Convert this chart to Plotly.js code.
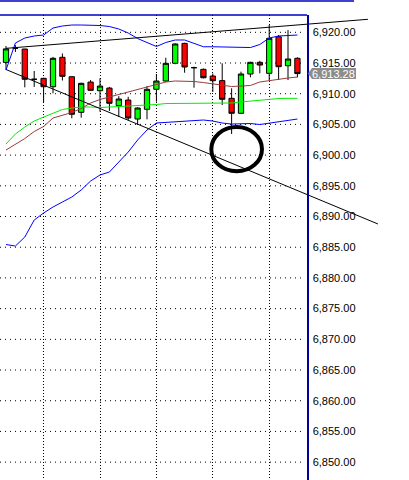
<!DOCTYPE html>
<html>
<head>
<meta charset="utf-8">
<script src="https://cdn.plot.ly/plotly-3.0.1.min.js"></script>
<style>html,body{margin:0;padding:0;background:#fff;}#chart{width:409px;height:480px;}</style>
</head>
<body>
<div id="chart"></div>
<script>
// bar index
var idx = [1,2,3,4,5,6,7,8,9,10,11,12,13,14,15,16,17,18,19,20,21,22,23,24,25,26,27,28,29,30,31,32];
var openP  = [6915.10,6917.40,6917.28,6912.35,6912.50,6911.14,6915.93,6912.77,6906.97,6911.90,6910.49,6910.92,6908.08,6908.97,6905.88,6907.46,6910.72,6912.07,6914.95,6918.20,6914.24,6913.97,6912.88,6912.13,6909.25,6906.81,6913.21,6915.11,6913.32,6919.28,6914.56,6915.77];
var highP  = [6917.77,6917.90,6917.30,6913.70,6912.60,6916.00,6916.55,6912.80,6911.80,6912.23,6912.50,6911.10,6909.60,6909.50,6907.80,6911.25,6913.21,6915.86,6918.20,6918.30,6914.40,6914.10,6913.30,6914.95,6910.88,6913.60,6915.20,6915.37,6921.19,6919.56,6920.37,6915.93];
var lowP   = [6913.90,6916.80,6911.04,6911.10,6908.65,6910.07,6912.15,6906.00,6906.10,6910.50,6907.07,6907.20,6906.20,6905.70,6904.90,6905.83,6908.70,6911.90,6914.80,6913.42,6910.98,6912.50,6910.28,6908.16,6903.44,6906.70,6912.67,6913.32,6912.23,6912.23,6912.23,6912.67];
var closeP = [6917.30,6917.40,6912.35,6912.35,6911.14,6915.77,6912.83,6906.65,6911.69,6910.55,6911.25,6908.44,6909.14,6906.04,6907.67,6910.72,6912.07,6914.95,6918.10,6914.35,6914.24,6912.60,6912.12,6909.09,6906.81,6913.21,6915.11,6914.67,6919.02,6914.40,6915.65,6913.28];
var bbUpper = [6913.86,6918.26,6919.07,6919.40,6919.56,6920.70,6921.03,6921.19,6921.19,6921.19,6921.11,6920.94,6920.54,6919.89,6918.99,6918.34,6917.69,6918.34,6918.75,6918.75,6918.18,6917.65,6917.65,6917.61,6917.52,6917.44,6917.52,6918.01,6919.07,6919.40,6919.48,6919.56];
var bbLower = [6885.44,6885.19,6886.66,6889.43,6890.57,6891.55,6892.36,6893.18,6894.32,6895.78,6896.76,6897.25,6898.88,6900.50,6902.46,6904.09,6905.23,6905.31,6905.39,6905.55,6905.63,6905.72,6905.55,6905.23,6905.06,6905.06,6905.15,6904.98,6905.23,6905.47,6905.72,6905.88];
var maGreen = [6901.81,6903.44,6904.58,6905.55,6906.20,6906.86,6907.43,6907.67,6907.83,6907.83,6907.75,6907.83,6907.92,6907.92,6908.00,6908.16,6908.24,6908.40,6908.40,6908.40,6908.44,6908.44,6908.44,6908.44,6908.49,6908.65,6908.81,6908.89,6909.06,6909.22,6909.25,6909.25];
var maBrown = [6900.83,6901.73,6902.70,6903.84,6904.66,6906.04,6906.53,6906.94,6907.59,6908.49,6909.06,6909.46,6909.79,6910.28,6910.68,6911.06,6911.42,6911.91,6912.07,6912.07,6911.99,6911.82,6911.58,6911.34,6911.17,6911.25,6911.34,6911.91,6912.15,6912.31,6912.56,6912.72];
// drawn objects
var trendUpperX = [1.0, 39.5];
var trendUpperY = [6917.39, 6922.12];
var trendLowerX = [1.0, 40.57];
var trendLowerY = [6913.94, 6888.78];
var circleX = [22.84, 28.23];
var circleY = [6897.36, 6904.58];
var lastPrice = 6913.28;
var lastPriceText = "6,913.28";
// axis ticks
var yTicks = [6850,6855,6860,6865,6870,6875,6880,6885,6890,6895,6900,6905,6910,6915,6920];
var xGrid = [5,11,17,23,29];

var axisPos = 307/409;
var traces = [
  {type:'scatter', mode:'lines', x:idx, y:bbUpper, line:{color:'#0000ff', width:1}, hoverinfo:'skip', showlegend:false},
  {type:'scatter', mode:'lines', x:idx, y:bbLower, line:{color:'#0000ff', width:1}, hoverinfo:'skip', showlegend:false},
  {type:'scatter', mode:'lines', x:idx, y:maGreen, line:{color:'#00ee00', width:1}, hoverinfo:'skip', showlegend:false},
  {type:'scatter', mode:'lines', x:idx, y:maBrown, line:{color:'#993b3b', width:1}, hoverinfo:'skip', showlegend:false},
  {type:'candlestick', x:idx, open:openP, high:highP, low:lowP, close:closeP,
    increasing:{line:{color:'#000000', width:1}, fillcolor:'#00ff00'},
    decreasing:{line:{color:'#000000', width:1}, fillcolor:'#ff0000'},
    whiskerwidth:0, hoverinfo:'skip', showlegend:false},
  {type:'scatter', mode:'lines', x:trendUpperX, y:trendUpperY, line:{color:'#000000', width:1}, hoverinfo:'skip', showlegend:false},
  {type:'scatter', mode:'lines', x:trendLowerX, y:trendLowerY, line:{color:'#000000', width:1}, hoverinfo:'skip', showlegend:false}
];

var shapes = [];
yTicks.forEach(function(v){
  shapes.push({type:'line', xref:'paper', yref:'y', x0:0, x1:303/409, y0:v, y1:v,
    line:{color:'#000000', width:1, dash:'1px,4px'}, layer:'below'});
});
shapes.push({type:'circle', xref:'x', yref:'y', x0:circleX[0], x1:circleX[1], y0:circleY[0], y1:circleY[1],
  line:{color:'#000000', width:4}});
// window frame lines
shapes.push({type:'line', xref:'paper', yref:'paper', x0:0, x1:axisPos, y0:1, y1:1, line:{color:'#0000c0', width:1.5}});
shapes.push({type:'line', xref:'paper', yref:'paper', x0:0, x1:354/409, y0:1+14/465, y1:1+14/465, line:{color:'#0000c0', width:1.5}});
// last price tag
shapes.push({type:'path', xref:'paper', yref:'y',
  path:'M '+(308/409)+','+lastPrice+' L '+(312/409)+','+(lastPrice+0.9)+' L '+(356/409)+','+(lastPrice+0.9)+' L '+(356/409)+','+(lastPrice-0.9)+' L '+(312/409)+','+(lastPrice-0.9)+' Z',
  fillcolor:'#8c8c8c', line:{width:0}});

var layout = {
  width:409, height:480,
  margin:{l:0, r:0, t:15, b:0, pad:0},
  paper_bgcolor:'#ffffff', plot_bgcolor:'#ffffff',
  showlegend:false,
  boxgap:0.2,
  xaxis:{range:[0.362, 43.87], domain:[0,1], showticklabels:false, ticks:'', zeroline:false, showline:false,
    tickvals:xGrid, showgrid:true, gridcolor:'#000000', gridwidth:1, griddash:'1px,2px',
    rangeslider:{visible:false}, fixedrange:true},
  yaxis:{range:[6847.09, 6922.82], domain:[0,1], anchor:'free', position:axisPos, side:'right',
    showgrid:false, zeroline:false, showline:true, linecolor:'#0000a0', linewidth:1.5,
    tickvals:yTicks, tickformat:',.2f', ticks:'', ticklabelstandoff:2,
    tickfont:{family:'Liberation Sans, Arial, sans-serif', size:11, color:'#000000'}, fixedrange:true},
  shapes:shapes,
  annotations:[{xref:'paper', yref:'y', x:311/409, y:lastPrice, xanchor:'left', yanchor:'middle',
    text:lastPriceText, showarrow:false, borderpad:0, font:{family:'Liberation Sans, Arial, sans-serif', size:11, color:'#ffffff'}}]
};

Plotly.newPlot('chart', traces, layout, {staticPlot:true, displayModeBar:false});
</script>
</body>
</html>
